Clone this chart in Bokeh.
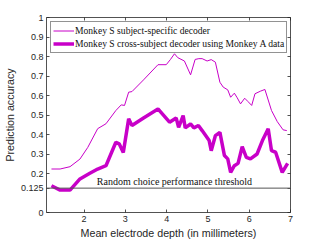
from bokeh.plotting import figure
from bokeh.models import LinearAxis, FixedTicker, Range1d, Label, Span, Legend, LegendItem
from bokeh.embed import file_html
from bokeh.resources import INLINE

# Data
depth_subject = [1.21, 1.42, 1.66, 1.90, 2.09, 2.33, 2.53, 2.77, 2.90, 2.98, 3.08, 3.16, 3.44,
                 3.79, 3.99, 4.09, 4.19, 4.27, 4.43, 4.58, 4.69, 4.78, 4.86, 4.98, 5.08, 5.18,
                 5.29, 5.37, 5.48, 5.55, 5.64, 5.71, 5.79, 5.89, 5.97, 6.06, 6.14, 6.27, 6.38,
                 6.54, 6.68, 6.82, 6.91]
acc_subject = [0.223, 0.223, 0.235, 0.274, 0.334, 0.430, 0.455, 0.523, 0.552, 0.549, 0.617, 0.620, 0.680,
               0.758, 0.758, 0.784, 0.814, 0.794, 0.777, 0.706, 0.785, 0.789, 0.789, 0.777, 0.784, 0.771,
               0.668, 0.643, 0.629, 0.591, 0.612, 0.588, 0.557, 0.586, 0.569, 0.549, 0.609, 0.622, 0.631,
               0.523, 0.466, 0.424, 0.420]

depth_cross = [1.21, 1.42, 1.66, 1.90, 2.14, 2.33, 2.53, 2.77, 2.85, 2.95, 3.08, 3.16, 3.44,
               3.79, 4.07, 4.23, 4.29, 4.40, 4.45, 4.58, 4.66, 4.77, 4.86, 5.03, 5.08, 5.18,
               5.29, 5.40, 5.48, 5.55, 5.64, 5.73, 5.83, 5.93, 6.03, 6.19, 6.32, 6.46, 6.54,
               6.64, 6.80, 6.93]
acc_cross = [0.137, 0.115, 0.115, 0.172, 0.201, 0.223, 0.240, 0.360, 0.352, 0.308, 0.480, 0.446, 0.485,
             0.531, 0.463, 0.485, 0.437, 0.497, 0.434, 0.454, 0.434, 0.446, 0.420, 0.369, 0.317, 0.394,
             0.411, 0.292, 0.275, 0.206, 0.240, 0.252, 0.338, 0.283, 0.275, 0.300, 0.369, 0.429, 0.317,
             0.309, 0.206, 0.252]

random_threshold = 0.125
x_ticks = [2, 3, 4, 5, 6, 7]
y_ticks = [0, 0.125, 0.2, 0.3, 0.4, 0.5, 0.6, 0.7, 0.8, 0.9, 1]
y_tick_labels = {0: "0", 0.125: "0.125", 0.2: "0.2", 0.3: "0.3", 0.4: "0.4", 0.5: "0.5",
                 0.6: "0.6", 0.7: "0.7", 0.8: "0.8", 0.9: "0.9", 1: "1"}

AX = "#262626"
MAG = "#c800c8"
SANS = "Liberation Sans"
SERIF = "Liberation Serif"

p = figure(width=321, height=241, output_backend="svg", toolbar_location=None,
           x_range=Range1d(1.09, 7), y_range=Range1d(0, 1),
           x_axis_location=None, y_axis_location=None,
           min_border_left=41, min_border_right=31, min_border_top=17, min_border_bottom=29)
p.outline_line_color = None
p.xgrid.visible = False
p.ygrid.visible = False
p.background_fill_color = "white"


def make_axis(ticks, show_labels, label=None):
    ax = LinearAxis(ticker=FixedTicker(ticks=ticks))
    ax.axis_line_color = AX
    ax.axis_line_width = 0.8
    ax.major_tick_line_color = AX
    ax.major_tick_line_width = 0.8
    ax.major_tick_in = 3
    ax.major_tick_out = 0
    ax.minor_tick_line_color = None
    if show_labels:
        ax.major_label_text_font = SANS
        ax.major_label_text_font_size = "9px"
        ax.major_label_text_color = AX
        ax.major_label_standoff = 3
    else:
        ax.major_label_text_font_size = "0px"
        ax.major_label_standoff = 0
        ax.major_label_text_color = None
    if label:
        ax.axis_label = label
        ax.axis_label_text_font = SANS
        ax.axis_label_text_font_size = "10.7px"
        ax.axis_label_text_font_style = "normal"
        ax.axis_label_text_color = AX
        ax.axis_label_standoff = 2
    return ax


xb = make_axis(x_ticks, True, "Mean electrode depth (in millimeters)")
yl = make_axis(y_ticks, True, "Prediction accuracy")
yl.major_label_overrides = y_tick_labels
xt = make_axis(x_ticks, False)
yr = make_axis(y_ticks, False)
p.add_layout(xb, "below")
p.add_layout(yl, "left")
p.add_layout(xt, "above")
p.add_layout(yr, "right")

p.add_layout(Span(location=random_threshold, dimension="width", line_color="#555555", line_width=1))

r1 = p.line(depth_subject, acc_subject, line_color=MAG, line_width=1)
r2 = p.line(depth_cross, acc_cross, line_color=MAG, line_width=3.5)

p.add_layout(Label(x=2.31, y=random_threshold, y_offset=1, text="Random choice performance threshold",
                   text_font=SERIF, text_font_size="10px", text_color="#111111",
                   text_baseline="bottom"))

legend = Legend(items=[LegendItem(label="Monkey S subject-specific decoder", renderers=[r1]),
                       LegendItem(label="Monkey S cross-subject decoder using Monkey A data", renderers=[r2])],
                location="top_left")
legend.label_text_font = SERIF
legend.label_text_font_size = "9.6px"
legend.label_text_color = "#111111"
legend.glyph_width = 21
legend.glyph_height = 13
legend.label_height = 13
legend.label_standoff = 1
legend.spacing = 0
legend.padding = 2
legend.margin = 4
legend.border_line_color = AX
legend.border_line_width = 0.8
legend.background_fill_color = "white"
legend.background_fill_alpha = 1
p.add_layout(legend, "center")

open("out.html", "w").write(file_html(p, INLINE))
